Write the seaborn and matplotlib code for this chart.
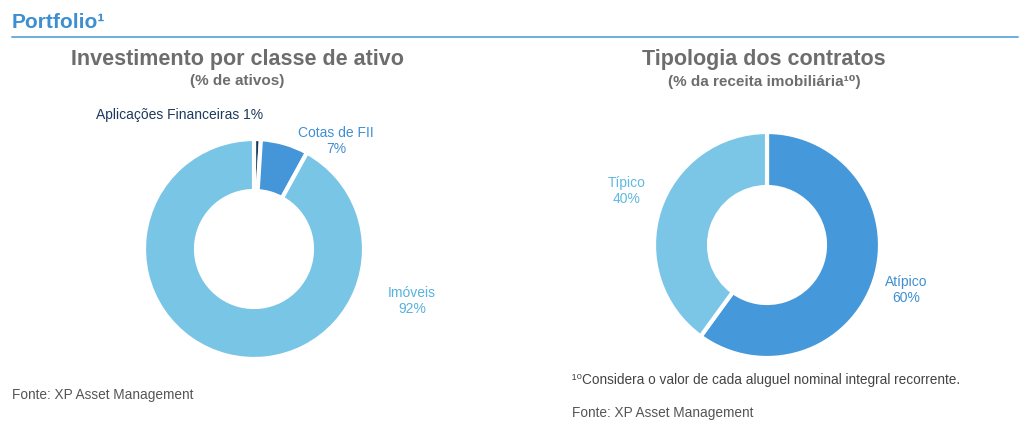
import matplotlib
matplotlib.use("Agg")
import matplotlib.pyplot as plt
import seaborn as sns

# dados
classes = ["Aplicações Financeiras", "Cotas de FII", "Imóveis"]
pct_classes = [1, 7, 92]
contratos = ["Atípico", "Típico"]
pct_contratos = [60, 40]

cores_classes = ["#1d3a5c", "#4596d8", "#79c5e5"]
cores_contratos = ["#4598d9", "#7bc6e6"]

sns.set_theme(style="white")
plt.rcParams["font.family"] = ["Liberation Sans", "DejaVu Sans"]

W, H = 1024, 445
fig = plt.figure(figsize=(W / 100, H / 100), dpi=100)
ax = fig.add_axes([0, 0, 1, 1])


def y(py):
    # converte coordenada de pixel (topo) para eixo
    return H - py


# cabeçalho
ax.text(12, y(23), "Portfolio¹", color="#3d8fd2", fontsize=15,
        fontweight="bold", va="center", ha="left")
ax.plot([12, 1018], [y(37), y(37)], color="#6aaee0", lw=1.4)

cinza = "#6d6d6d"
ax.text(237, y(60), "Investimento por classe de ativo", color=cinza,
        fontsize=15.5, fontweight="bold", ha="center", va="center")
ax.text(237, y(81), "(% de ativos)", color=cinza, fontsize=11,
        fontweight="bold", ha="center", va="center")
ax.text(764, y(60), "Tipologia dos contratos", color=cinza,
        fontsize=15.5, fontweight="bold", ha="center", va="center")
ax.text(764, y(82), "(% da receita imobiliária¹⁰)", color=cinza, fontsize=11,
        fontweight="bold", ha="center", va="center")

ax.pie(pct_classes, colors=cores_classes, startangle=90, counterclock=False,
       center=(254, y(249)), radius=110,
       wedgeprops=dict(width=52, edgecolor="white", linewidth=3), frame=True)
ax.pie(pct_contratos, colors=cores_contratos, startangle=90, counterclock=False,
       center=(767, y(245)), radius=113,
       wedgeprops=dict(width=55, edgecolor="white", linewidth=3), frame=True)
ax.set_xlim(0, W)
ax.set_ylim(0, H)
ax.set_aspect("auto")
ax.axis("off")

fs = 10
ax.text(180, y(115), f"{classes[0]} {pct_classes[0]}%", color="#1d3a5c",
        fontsize=fs, ha="center", va="center")
ax.text(336, y(133), classes[1], color="#3f8fd2", fontsize=fs, ha="center", va="center")
ax.text(336, y(149), f"{pct_classes[1]}%", color="#3f8fd2", fontsize=fs, ha="center", va="center")
ax.text(412, y(293), classes[2], color="#56b2de", fontsize=fs, ha="center", va="center")
ax.text(412, y(309), f"{pct_classes[2]}%", color="#56b2de", fontsize=fs, ha="center", va="center")

ax.text(627, y(183), contratos[1], color="#5fb9e1", fontsize=fs, ha="center", va="center")
ax.text(627, y(199), f"{pct_contratos[1]}%", color="#5fb9e1", fontsize=fs, ha="center", va="center")
ax.text(906, y(282), contratos[0], color="#3f8fd2", fontsize=fs, ha="center", va="center")
ax.text(906, y(298), f"{pct_contratos[0]}%", color="#3f8fd2", fontsize=fs, ha="center", va="center")

# rodapé
ax.text(12, y(395), "Fonte: XP Asset Management", color="#555555", fontsize=9.8,
        ha="left", va="center")
ax.text(572, y(380), "¹⁰Considera o valor de cada aluguel nominal integral recorrente.",
        color="#444444", fontsize=9.8, ha="left", va="center")
ax.text(572, y(413), "Fonte: XP Asset Management", color="#555555", fontsize=9.8,
        ha="left", va="center")

fig.savefig("out.png", dpi=100, facecolor="white")
